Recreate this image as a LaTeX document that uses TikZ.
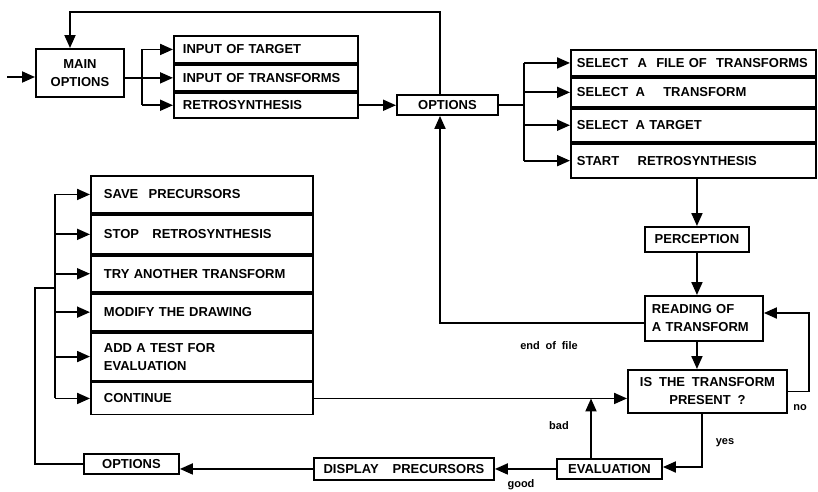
\documentclass[tikz,border=0pt]{standalone}
\usepackage{fontspec}
\setmainfont{Liberation Sans}[WordSpace=1.9]
\usetikzlibrary{arrows.meta}
\begin{document}
\begin{tikzpicture}[x=1pt,y=-1pt,
  box/.style={draw, line width=1.9pt, font=\bfseries\fontsize{13}{18}\selectfont, inner sep=0pt, align=center},
  rowbox/.style={box, anchor=north west, align=left},
  sa/.style={rowbox, inner xsep=9pt, text width=166pt},
  sb/.style={rowbox, inner xsep=6pt, text width=233pt},
  sc/.style={rowbox, inner xsep=13pt, text width=196pt},
  plain/.style={box, anchor=north west},
  lab/.style={font=\bfseries\fontsize{11}{13}\selectfont},
  ln/.style={line width=1.9pt},
  arr/.style={line width=1.9pt, -{Triangle[length=13pt,width=11pt]}}
]
\useasboundingbox (0,0) rectangle (818,491);

% boxes
\node[plain, minimum width=88pt, minimum height=48pt] (main) at (35,48) {MAIN\\OPTIONS};

\node[sa, minimum height=27pt] (t1) at (173,35) {INPUT OF TARGET};
\node[sa, minimum height=26pt] (t2) at (t1.south west) {INPUT OF TRANSFORMS};
\node[sa, minimum height=25pt] (t3) at (t2.south west) {RETROSYNTHESIS};

\node[plain, minimum width=101pt, minimum height=20pt] (opt) at (396,94) {OPTIONS};

\node[sb, minimum height=26pt] (r1) at (570,49) {SELECT\hspace{5pt} A\hspace{5pt} FILE OF\hspace{5pt} TRANSFORMS};
\node[sb, minimum height=29pt] (r2) at (r1.south west) {SELECT\hspace{3pt} A\hspace{14pt} TRANSFORM};
\node[sb, minimum height=33pt] (r3) at (r2.south west) {SELECT\hspace{3pt} A TARGET};
\node[sb, minimum height=34pt] (r4) at (r3.south west) {START\hspace{14pt} RETROSYNTHESIS};

\node[plain, minimum width=104pt, minimum height=25pt] (perc) at (644,226) {PERCEPTION};
\node[plain, minimum width=118pt, minimum height=45pt, text width=104pt, align=left] (read) at (644,295) {READING OF\\A TRANSFORM};
\node[plain, minimum width=159pt, minimum height=43pt] (is) at (627,369) {IS THE TRANSFORM\\PRESENT ?};

\node[sc, minimum height=37pt] (c1) at (90,175) {SAVE\hspace{6pt} PRECURSORS};
\node[sc, minimum height=39pt] (c2) at (c1.south west) {STOP\hspace{9pt} RETROSYNTHESIS};
\node[sc, minimum height=36pt] (c3) at (c2.south west) {TRY ANOTHER TRANSFORM};
\node[sc, minimum height=37pt] (c4) at (c3.south west) {MODIFY THE DRAWING};
\node[sc, minimum height=48pt] (c5) at (c4.south west) {ADD A TEST FOR\\EVALUATION};
\node[sc, minimum height=32pt] (c6) at (c5.south west) {CONTINUE};

\node[plain, minimum width=105pt, minimum height=20pt] (eval) at (556,458) {EVALUATION};
\node[plain, minimum width=180pt, minimum height=22pt] (disp) at (313,457) {DISPLAY\hspace{7pt} PRECURSORS};
\node[plain, minimum width=95pt, minimum height=20pt] (opt2) at (83,453) {OPTIONS};

% input and main options
\coordinate (in) at (7,77);
\draw[arr] (in) -- (in -| main.west);
\coordinate (b1) at (142,0);
\draw[arr] (main.east |- t2.west) -- (t2.west);
\draw[ln] (b1 |- t1.west) -- (b1 |- t3.west);
\draw[arr] (b1 |- t1.west) -- (t1.west);
\draw[arr] (b1 |- t3.west) -- (t3.west);

% retrosynthesis -> options
\draw[arr] (t3.east) -- (t3.east -| opt.west);

% options -> second stack
\coordinate (b2) at (524,0);
\draw[ln] (opt.east) -- (opt.east -| b2);
\draw[ln] (b2 |- r1.west) -- (b2 |- r4.west);
\foreach \r in {r1,r2,r3,r4} \draw[arr] (b2 |- \r.west) -- (\r.west);

% top loop
\coordinate (ta) at (440,12);
\coordinate (tb) at (70,12);
\draw[arr] (ta |- opt.north) -- (ta) -- (tb) -- (tb |- main.north);

% main flow
\draw[arr] (perc.north |- r4.south) -- (perc.north);
\draw[arr] (perc.south) -- (perc.south |- read.north);
\draw[arr] (perc.south |- read.south) -- (perc.south |- is.north);

% end of file
\coordinate (eof) at (440,323);
\draw[arr] (read.west |- eof) -- (eof) -- (eof |- opt.south);
\node[lab] (eofl) at (549,346) {end of file};

% no
\coordinate (fb) at (809,313);
\draw[arr] (is.east) -- (is.east -| fb) -- (fb) -- (fb -| read.east);
\node[lab] (nol) at (800,408) {no};

% yes
\coordinate (ys) at (702,467);
\draw[arr] (ys |- is.south) -- (ys) -- (ys -| eval.east);
\node[lab] (yesl) at (725,443) {yes};

% bad
\coordinate (bd) at (591,0);
\draw[arr] (bd |- eval.north) -- (bd |- c6.east);
\node[lab] (badl) at (559,426) {bad};

% continue -> is
\draw[arr] (c6.east) -- (c6.east -| is.west);

% good
\draw[arr] (eval.west) -- (eval.west -| disp.east);
\node[lab] (goodl) at (521,485) {good};

% display -> options
\draw[arr] (disp.west) -- (disp.west -| opt2.east);

% options loop to left stack
\coordinate (l1) at (35,288);
\coordinate (b3) at (55,288);
\draw[ln] (opt2.west) -- (opt2.west -| l1) -- (l1) -- (b3);
\draw[ln] (b3 |- c1.west) -- (b3 |- c6.west);
\foreach \c in {c1,c2,c3,c4,c5,c6} \draw[arr] (b3 |- \c.west) -- (\c.west);
\end{tikzpicture}
\end{document}
